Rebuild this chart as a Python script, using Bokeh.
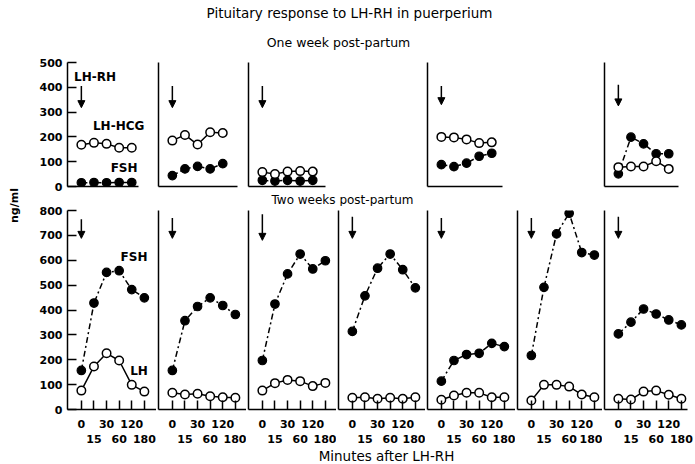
import math
from bokeh.plotting import figure
from bokeh.models import (FixedTicker, LinearAxis, Label, Arrow, NormalHead,
                          Range1d, Spacer)
from bokeh.layouts import row, column
from bokeh.embed import file_html
from bokeh.resources import INLINE

# ---------------- data (ng/ml) ----------------
time_labels = ["0", "15", "30", "60", "120", "180"]
week1_yticks = [0, 100, 200, 300, 400, 500]
week2_yticks = [0, 100, 200, 300, 400, 500, 600, 700, 800]

# One week post-partum: 5 samples per subject
week1_lh = [
    [168, 176, 172, 156, 156],
    [185, 208, 169, 219, 216],
    [58, 50, 60, 62, 60],
    [200, 198, 190, 175, 178],
    [78, 81, 81, 102, 71],
]
week1_fsh = [
    [15, 16, 15, 16, 16],
    [44, 71, 81, 71, 92],
    [25, 22, 25, 22, 25],
    [88, 80, 94, 122, 134],
    [51, 199, 172, 132, 132],
]
week1_arrow_from = [405, 405, 405, 405, 410]
week1_arrow_to = [318, 318, 318, 330, 325]

# Two weeks post-partum: 6 samples per subject
week2_fsh = [
    [157, 428, 551, 558, 482, 449],
    [157, 357, 414, 449, 418, 382],
    [197, 424, 545, 625, 565, 598],
    [314, 457, 568, 625, 562, 489],
    [114, 197, 221, 226, 266, 253],
    [217, 491, 706, 789, 631, 621],
    [304, 351, 404, 384, 360, 340],
]
week2_lh = [
    [76, 173, 226, 197, 99, 72],
    [67, 60, 63, 53, 49, 47],
    [76, 106, 119, 114, 94, 107],
    [47, 49, 43, 47, 43, 49],
    [39, 56, 67, 67, 49, 49],
    [36, 99, 99, 92, 60, 49],
    [43, 40, 72, 76, 59, 43],
]
week2_arrow_from = [765, 770, 785, 775, 770, 770, 775]
week2_arrow_to = [688, 688, 680, 688, 688, 688, 688]

# ---------------- styling / layout ----------------
FONT = "DejaVu Sans"
SPACING = 12.6  # px per sampling step
X_START = -1.1
slot_w = [131, 90, 90, 89, 90, 87, 93]
slot_mbr = [0, 0, 0, 0, 0, 0, 8]
week1_cols = [0, 1, 2, 4, 6]
week1_line_w = [71, 79, 77, 75, 74]


def style(p):
    p.outline_line_color = None
    p.xgrid.grid_line_color = None
    p.ygrid.grid_line_color = None
    p.background_fill_color = "white"
    p.border_fill_color = "white"
    for ax in p.axis:
        ax.axis_line_width = 1.5
        ax.axis_line_color = "black"
        ax.major_tick_line_width = 1.5
        ax.major_tick_line_color = "black"
        ax.minor_tick_line_width = 1.5
        ax.minor_tick_line_color = "black"
        ax.major_tick_in = 9
        ax.major_tick_out = 0
        ax.minor_tick_in = 9
        ax.minor_tick_out = 0
        ax.major_label_text_font = FONT
        ax.major_label_text_font_style = "bold"
        ax.major_label_text_font_size = "11px"
        ax.major_label_text_color = "black"


def draw_series(p, fsh, lh, a_from, a_to):
    xs = list(range(len(fsh)))
    p.line(xs, fsh, line_color="black", line_width=1.5, line_dash="6 3 2 3")
    p.scatter(xs, fsh, size=8.5, marker="circle", fill_color="black",
              line_color="black", line_width=1.2)
    p.line(xs, lh, line_color="black", line_width=1.5)
    p.scatter(xs, lh, size=8.5, marker="circle", fill_color="white",
              line_color="black", line_width=1.5)
    p.add_layout(Arrow(end=NormalHead(size=7, fill_color="black", line_color="black"),
                       x_start=xs[0], y_start=a_from, x_end=xs[0], y_end=a_to,
                       line_width=1.5, line_color="black"))


def txt(p, x, y, s, size="12px", style_="bold", **kw):
    p.add_layout(Label(x=x, y=y, text=s, text_font=FONT, text_font_size=size,
                       text_font_style=style_, text_align="center",
                       text_baseline="middle", text_color="black", **kw))


# ---------------- top row: one week ----------------
TOP_H = 138
top_children = []
top_figs = {}
for k, col in enumerate(week1_cols):
    mbl = 42 if col == 0 else 2
    mbr = slot_mbr[col]
    fw = slot_w[col] - mbl - mbr
    p = figure(width=slot_w[col], height=TOP_H,
               x_range=Range1d(X_START, X_START + fw / SPACING),
               y_range=Range1d(0, 500),
               toolbar_location=None, output_backend="svg",
               min_border_left=mbl, min_border_right=mbr,
               min_border_top=8, min_border_bottom=6)
    p.xaxis.ticker = FixedTicker(ticks=[])
    p.xaxis.bounds = (X_START, X_START + week1_line_w[k] / SPACING)
    if col == 0:
        p.yaxis.ticker = FixedTicker(ticks=week1_yticks)
    else:
        p.yaxis.ticker = FixedTicker(ticks=[])
    style(p)
    p.xaxis.major_label_text_font_size = "0px"
    p.xaxis.major_label_standoff = 0
    if col != 0:
        p.yaxis.major_label_text_font_size = "0px"
        p.yaxis.major_label_standoff = 0
    else:
        p.yaxis.major_label_standoff = 5
    draw_series(p, week1_fsh[k], week1_lh[k], week1_arrow_from[k], week1_arrow_to[k])
    top_figs[col] = p

for col in range(7):
    if col in top_figs:
        top_children.append(top_figs[col])
    else:
        top_children.append(Spacer(width=slot_w[col], height=TOP_H))

t1 = top_figs[0]
txt(t1, 1.09, 443, "LH-RH")
txt(t1, 2.96, 242, "LH-HCG")
txt(t1, 3.39, 73, "FSH")

# ---------------- bottom row: two weeks ----------------
BOT_H = 241
bot_children = []
for k in range(7):
    mbl = 42 if k == 0 else 2
    mbr = slot_mbr[k]
    fw = slot_w[k] - mbl - mbr
    p = figure(width=slot_w[k], height=BOT_H,
               x_range=Range1d(X_START, X_START + fw / SPACING),
               y_range=Range1d(0, 800),
               toolbar_location=None, output_backend="svg",
               min_border_left=mbl, min_border_right=mbr,
               min_border_top=4, min_border_bottom=38)
    ticks_even = [i for i in range(len(time_labels)) if i % 2 == 0]
    ticks_odd = [i for i in range(len(time_labels)) if i % 2 == 1]
    p.xaxis.ticker = FixedTicker(ticks=ticks_even, minor_ticks=ticks_odd)
    p.xaxis.major_label_overrides = {i: time_labels[i] for i in ticks_even}
    ax2 = LinearAxis(ticker=FixedTicker(ticks=ticks_odd),
                     major_label_overrides={i: time_labels[i] for i in ticks_odd})
    p.add_layout(ax2, "below")
    if k == 0:
        p.yaxis.ticker = FixedTicker(ticks=week2_yticks)
    else:
        p.yaxis.ticker = FixedTicker(ticks=[])
    style(p)
    p.xaxis[0].major_label_standoff = 10
    ax2.axis_line_color = None
    ax2.major_tick_line_color = None
    ax2.minor_tick_line_color = None
    ax2.major_label_standoff = 4
    if k != 0:
        p.yaxis.major_label_text_font_size = "0px"
        p.yaxis.major_label_standoff = 0
    else:
        p.yaxis.major_label_standoff = 5
    draw_series(p, week2_fsh[k], week2_lh[k], week2_arrow_from[k], week2_arrow_to[k])
    if k == 0:
        txt(p, 4.18, 614, "FSH")
        txt(p, 4.58, 153, "LH")
    bot_children.append(p)


# ---------------- text bands ----------------
def band(w, h):
    b = figure(width=w, height=h, x_range=Range1d(0, 1), y_range=Range1d(0, 1),
               x_axis_type=None, y_axis_type=None, toolbar_location=None,
               output_backend="svg", min_border=0)
    b.outline_line_color = None
    b.xgrid.grid_line_color = None
    b.ygrid.grid_line_color = None
    return b


MAIN_W = sum(slot_w)
bandA = band(MAIN_W, 54)
txt(bandA, 324, 42, "Pituitary response to LH-RH in puerperium", size="13.5px",
    style_="normal", x_units="screen", y_units="screen")
txt(bandA, 313, 12, "One week post-partum", size="12.5px", style_="normal",
    x_units="screen", y_units="screen")
bandB = band(MAIN_W, 14)
txt(bandB, 317, 7, "Two weeks post-partum", size="12px", style_="normal",
    x_units="screen", y_units="screen")
bandC = band(MAIN_W, 17)
txt(bandC, 361, 9, "Minutes after LH-RH", size="13.5px", style_="normal",
    x_units="screen", y_units="screen")

left = band(25, 464)
txt(left, 14, 259, "ng/ml", size="11px", style_="bold", angle=math.pi / 2,
    x_units="screen", y_units="screen")

main = column(bandA, row(*top_children, spacing=0), bandB,
              row(*bot_children, spacing=0), bandC, spacing=0)
layout = row(left, main, spacing=0)

open("out.html", "w").write(file_html(layout, INLINE))
